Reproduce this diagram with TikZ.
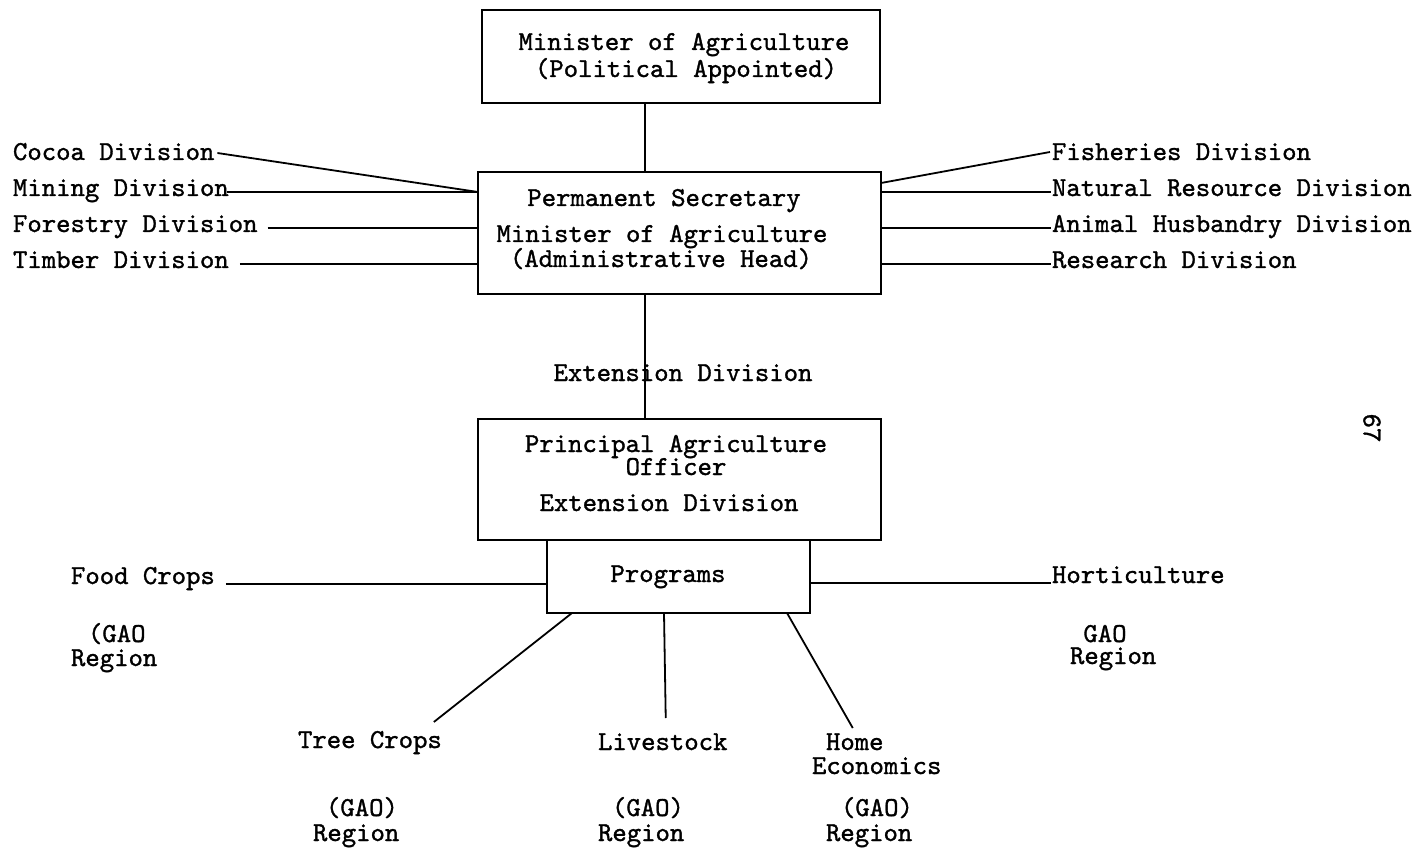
\documentclass[tikz,border=0pt]{standalone}
\usepackage{fontspec}
\newfontfamily\tw{lmmono10-regular}[Extension=.otf,FakeBold=1.2]
\usetikzlibrary{calc}
\begin{document}
\begin{tikzpicture}[x=0.5pt,y=-0.5pt,
  box/.style={draw,line width=0.9pt,inner sep=0pt,outer sep=0pt},
  lbl/.style={inner sep=0pt,outer sep=0pt,font=\tw\fontsize{13.7}{16}\selectfont},
  conn/.style={line width=0.9pt}]
\fill[white] (0,0) rectangle (1419,850);
\useasboundingbox (0,0) rectangle (1419,850);
% boxes
\node[box,minimum width=199pt,minimum height=46.5pt] (b1) at (681,56.5) {};
\node[box,minimum width=201.5pt,minimum height=61pt] (b2) at (679.5,233) {};
\node[box,minimum width=201.5pt,minimum height=60.5pt] (b3) at (679.5,479.5) {};
\node[box,minimum width=131.5pt,minimum height=36.5pt] (b4) at (678.5,576.5) {};
% box texts
\node[lbl,anchor=base] (t1a) at (684,50) {Minister of Agriculture};
\node[lbl,anchor=base] (t1b) at (686,77) {(Political Appointed)};
\node[lbl,anchor=base] (t2a) at (664,206) {Permanent Secretary};
\node[lbl,anchor=base] (t2b) at (662,242) {Minister of Agriculture};
\node[lbl,anchor=base] (t2c) at (661,267) {(Administrative Head)};
\node[lbl,anchor=base] (t3a) at (676,452) {Principal Agriculture};
\node[lbl,anchor=base] (t3b) at (676,475) {Officer};
\node[lbl,anchor=base] (t3c) at (669,511) {Extension Division};
\node[lbl,anchor=base] (t4) at (668,582) {Programs};
\node[lbl,anchor=base] (ext) at (683,381) {Extension Division};
% vertical spine
\coordinate (vx) at (645,0);
\draw[conn] (b1.south -| vx) -- (b2.north -| vx);
\draw[conn] (b2.south -| vx) -- (b3.north -| vx);
% left divisions
\node[lbl,anchor=base west] (cocoa) at (13,160) {Cocoa Division};
\node[lbl,anchor=base west] (mining) at (13,196) {Mining Division};
\node[lbl,anchor=base west] (forestry) at (13,232) {Forestry Division};
\node[lbl,anchor=base west] (timber) at (13,268) {Timber Division};
\path ($(mining.base east)+(-2,-4)$) coordinate (m1);
\path ($(forestry.base east)+(10,-4)$) coordinate (f1);
\path ($(timber.base east)+(11,-4)$) coordinate (ti1);
\draw[conn] ($(cocoa.base east)+(3,-7)$) -- (b2.west |- m1);
\draw[conn] (m1) -- (b2.west |- m1);
\draw[conn] (f1) -- (b2.west |- f1);
\draw[conn] (ti1) -- (b2.west |- ti1);
% right divisions
\node[lbl,anchor=base west] (fish) at (1052,160) {Fisheries Division};
\node[lbl,anchor=base west] (nat) at (1052,196) {Natural Resource Division};
\node[lbl,anchor=base west] (anim) at (1052,232) {Animal Husbandry Division};
\node[lbl,anchor=base west] (res) at (1052,268) {Research Division};
\path ($(nat.base west)+(-1,-4)$) coordinate (n1);
\path ($(anim.base west)+(-1,-4)$) coordinate (a1);
\path ($(res.base west)+(-1,-4)$) coordinate (r1);
\draw[conn] ([yshift=25pt]b2.east) -- ($(fish.base west)+(-2,-8)$);
\draw[conn] (b2.east |- n1) -- (n1);
\draw[conn] (b2.east |- a1) -- (a1);
\draw[conn] (b2.east |- r1) -- (r1);
% programs branches
\node[lbl,anchor=base west] (food) at (71,584) {Food Crops};
\node[lbl,anchor=base west] (hort) at (1052,583) {Horticulture};
\path ($(food.base east)+(11,0)$) coordinate (fc);
\path ($(hort.base west)+(-1,0)$) coordinate (hc);
\draw[conn] (fc) -- (b4.west |- fc);
\draw[conn] (b4.east |- hc) -- (hc);
\node[lbl,anchor=base west] (gaol) at (88,642) {(GAO};
\node[lbl,anchor=base west] (regl) at (71,666) {Region};
\node[lbl,anchor=base] (gaor) at (1105,642) {GAO};
\node[lbl,anchor=base west] (regr) at (1070,664) {Region};
% lower programs
\node[lbl,anchor=base west] (tree) at (298,748) {Tree Crops};
\node[lbl,anchor=base west] (live) at (598,750) {Livestock};
\node[lbl,anchor=base west] (home) at (826,750) {Home};
\node[lbl,anchor=base west] (econ) at (812,774) {Economics};
\draw[conn] ($(b4.south west)+(25,0)$) -- ($(tree.base east)+(-8,-26)$);
\draw[conn] ($(b4.south west)+(117,0)$) -- ($(live.base)+(3,-32)$);
\draw[conn] ($(b4.south west)+(240,0)$) -- ($(home.base)+(-2,-22)$);
\node[lbl,anchor=base west] (g1) at (326,816) {(GAO)};
\node[lbl,anchor=base west] (r1b) at (313,841) {Region};
\node[lbl,anchor=base west] (g2) at (612,816) {(GAO)};
\node[lbl,anchor=base west] (r2b) at (598,841) {Region};
\node[lbl,anchor=base west] (g3) at (841,816) {(GAO)};
\node[lbl,anchor=base west] (r3b) at (826,841) {Region};
% page number
\node[lbl,rotate=-90] (pg) at (1372,428) {67};
\end{tikzpicture}
\end{document}
